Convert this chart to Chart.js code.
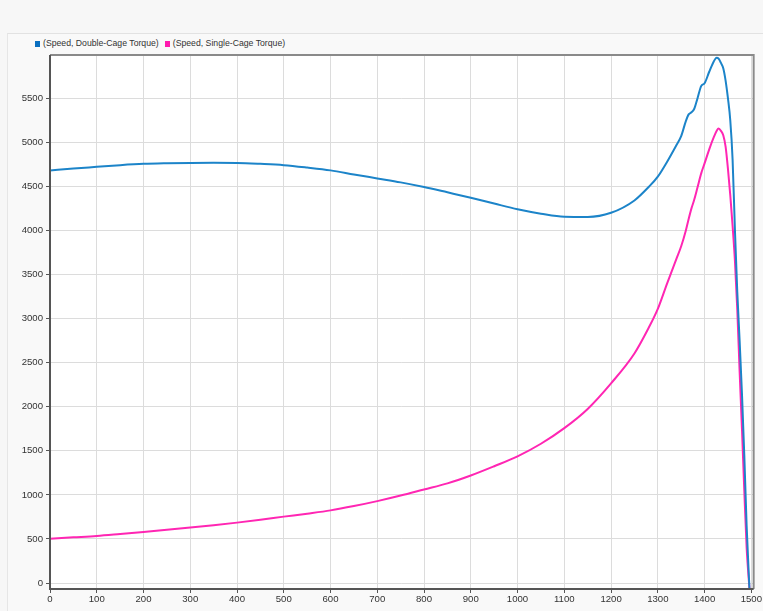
<!DOCTYPE html>
<html>
<head>
<meta charset="utf-8">
<script src="https://cdn.jsdelivr.net/npm/chart.js@4/dist/chart.umd.min.js"></script>
<style>
  html, body { margin: 0; padding: 0; }
  body { width: 763px; height: 611px; background: #f7f7f7; position: relative; overflow: hidden;
         font-family: "Liberation Sans", Arial, sans-serif; }
  #panel { position: absolute; left: 7px; top: 33px; right: 0; bottom: 0; background: #f9f9f9;
           border-top: 1px solid #e2e2e2; border-left: 1px solid #e6e6e6; }
  #legend { position: absolute; left: 35px; top: 38px; font-size: 8.7px; color: #333; white-space: nowrap; }
  #legend span.item { margin-right: 6px; }
  #legend i { display: inline-block; width: 5px; height: 6px; margin-right: 3px; vertical-align: -0.5px; }
  #wrap { position: absolute; left: 0; top: 0; width: 763px; height: 611px; }
</style>
</head>
<body>
<div id="panel"></div>
<div id="legend"></div>
<div id="wrap"><canvas id="torqueChart" width="763" height="611"></canvas></div>
<script>
// speed axis (rpm) shared by both curves
const speed = [0, 50, 100, 150, 200, 250, 300, 350, 400, 450, 500, 550, 600, 650, 700, 750, 800, 850, 900, 950,
  1000, 1050, 1100, 1150, 1200, 1250, 1280, 1300, 1320, 1340, 1350, 1360, 1366, 1372, 1378, 1385, 1393, 1400,
  1410, 1420, 1426, 1430, 1435, 1440, 1445, 1450, 1455, 1460, 1465, 1470, 1475, 1480, 1485, 1490, 1496];

const doubleCage = [4681, 4702, 4721, 4740, 4755, 4762, 4766, 4768, 4766, 4755, 4740, 4713, 4681, 4635, 4590, 4545,
  4492, 4432, 4371, 4305, 4240, 4190, 4155, 4153, 4200, 4340, 4490, 4610, 4780, 4970, 5070, 5240, 5316, 5340,
  5380, 5500, 5640, 5670, 5800, 5920, 5960, 5950, 5900, 5840, 5700, 5500, 5250, 4800, 4000, 3300, 2750, 2150,
  1450, 650, -60];

const singleCage = [502, 518, 534, 556, 579, 604, 629, 656, 685, 718, 753, 787, 824, 873, 929, 992, 1061, 1130,
  1220, 1325, 1437, 1580, 1757, 1975, 2265, 2604, 2890, 3110, 3400, 3680, 3820, 4000, 4130, 4250, 4350, 4490,
  4650, 4760, 4920, 5060, 5130, 5155, 5130, 5080, 4950, 4700, 4400, 4050, 3650, 3100, 2400, 1750, 1050, 400, -60];

const seriesNames = ['(Speed, Double-Cage Torque)', '(Speed, Single-Cage Torque)'];
const seriesColors = ['#1c84c9', '#ff26b3'];
const legendColors = ['#0b6fc0', '#ff1aae'];

const xTicks = [0, 100, 200, 300, 400, 500, 600, 700, 800, 900, 1000, 1100, 1200, 1300, 1400, 1500];
const yTicks = [0, 500, 1000, 1500, 2000, 2500, 3000, 3500, 4000, 4500, 5000, 5500];

// html legend
document.getElementById('legend').innerHTML = seriesNames.map((n, i) =>
  `<span class="item"><i style="background:${legendColors[i]}"></i>${n}</span>`).join('');

const toPoints = vals => speed.map((s, i) => ({ x: s, y: vals[i] }));

// white plot area + frame
const frame = {
  id: 'frame',
  beforeDraw(chart) {
    const { ctx, chartArea: a } = chart;
    ctx.save();
    ctx.fillStyle = '#ffffff';
    ctx.fillRect(a.left, a.top, a.right - a.left, a.bottom - a.top);
    ctx.restore();
  },
  afterDraw(chart) {
    const { ctx, chartArea: a } = chart;
    ctx.save();
    ctx.strokeStyle = '#8a8a8a';
    ctx.lineWidth = 2;
    ctx.beginPath();
    ctx.moveTo(a.left, a.top); ctx.lineTo(a.right, a.top); ctx.lineTo(a.right, a.bottom);
    ctx.stroke();
    ctx.strokeStyle = '#555555';
    ctx.beginPath();
    ctx.moveTo(a.left, a.top); ctx.lineTo(a.left, a.bottom); ctx.lineTo(a.right, a.bottom);
    ctx.stroke();
    ctx.restore();
  }
};

Chart.defaults.font.family = '"Liberation Sans", Arial, sans-serif';
Chart.defaults.font.size = 9.6;
Chart.defaults.color = '#333';

new Chart(document.getElementById('torqueChart'), {
  type: 'line',
  data: {
    datasets: [
      { label: seriesNames[0], data: toPoints(doubleCage), borderColor: seriesColors[0], borderWidth: 2,
        pointRadius: 0, cubicInterpolationMode: 'monotone', fill: false },
      { label: seriesNames[1], data: toPoints(singleCage), borderColor: seriesColors[1], borderWidth: 2,
        pointRadius: 0, cubicInterpolationMode: 'monotone', fill: false }
    ]
  },
  options: {
    responsive: false,
    animation: false,
    maintainAspectRatio: false,
    layout: { padding: { top: 55, right: 6, left: 0, bottom: 0 } },
    plugins: { legend: { display: false }, tooltip: { enabled: false } },
    scales: {
      x: {
        type: 'linear', min: 0, max: 1505,
        afterFit: s => { s.height = 22; },
        afterBuildTicks: s => { s.ticks = xTicks.map(v => ({ value: v })); },
        ticks: { padding: 1, maxRotation: 0, autoSkip: false, color: '#333', callback: v => String(v) },
        grid: { color: '#dcdcdc', lineWidth: 1, tickLength: 4, tickColor: '#555' },
        border: { display: false }
      },
      y: {
        min: -68, max: 5990,
        afterFit: s => { s.width = 50; },
        afterBuildTicks: s => { s.ticks = yTicks.map(v => ({ value: v })); },
        ticks: { padding: 3, autoSkip: false, color: '#333', callback: v => String(v) },
        grid: { color: '#dcdcdc', lineWidth: 1, tickLength: 4, tickColor: '#555' },
        border: { display: false }
      }
    }
  },
  plugins: [frame]
});
</script>
</body>
</html>
